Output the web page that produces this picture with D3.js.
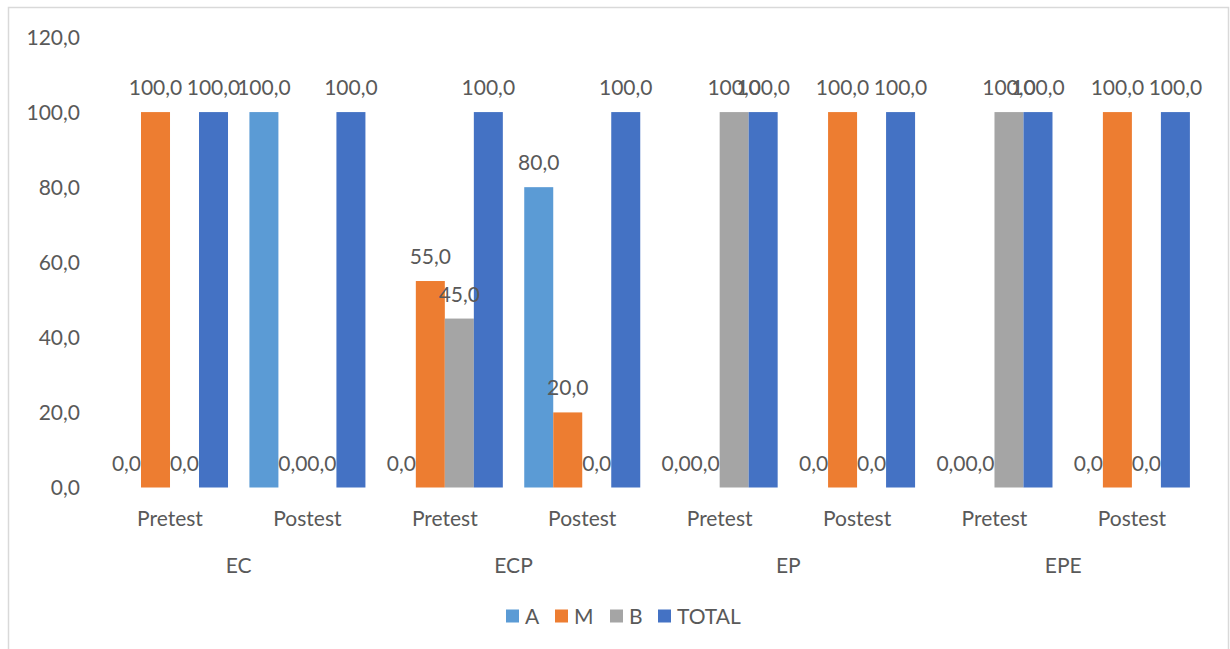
<!DOCTYPE html>
<html>
<head>
<meta charset="utf-8">
<script src="https://cdn.jsdelivr.net/npm/d3@7"></script>
<style>
  body { margin: 0; background: #fff; }
  text { font-family: Lato, "Open Sans", sans-serif; fill: #595959; }
</style>
</head>
<body>
<div id="chart"></div>
<script>
// Data
const groups = ["EC", "ECP", "EP", "EPE"];
const phases = ["Pretest", "Postest"];
const series = ["A", "M", "B", "TOTAL"];
const colors = ["#5B9BD5", "#ED7D31", "#A5A5A5", "#4472C4"];
const valuesA = [0, 100, 0, 80, 0, 0, 0, 0];
const valuesM = [100, 0, 55, 20, 0, 100, 0, 100];
const valuesB = [0, 0, 45, 0, 100, 0, 100, 0];
const valuesTotal = [100, 100, 100, 100, 100, 100, 100, 100];
const yTicks = [0, 20, 40, 60, 80, 100, 120];

const seriesValues = [valuesA, valuesM, valuesB, valuesTotal];
const categories = [];
groups.forEach(g => phases.forEach(p => categories.push({group: g, phase: p, key: g + "-" + p})));

const W = 1230, H = 649;
const svg = d3.select("#chart").append("svg")
    .attr("width", W)
    .attr("height", H);

// Chart border
svg.append("rect")
    .attr("x", 8.5).attr("y", 7.5)
    .attr("width", 1220).attr("height", 660)
    .attr("fill", "none")
    .attr("stroke", "#d9d9d9")
    .attr("stroke-width", 1.5);

// Scales
const x0 = d3.scaleBand()
    .domain(categories.map(d => d.key))
    .range([101.3, 1200.6])
    .padding(0);

const gap = 21.4;
const x1 = d3.scaleBand()
    .domain(series)
    .range([gap / 2, x0.bandwidth() - gap / 2])
    .padding(0);

const y = d3.scaleLinear()
    .domain([0, 120])
    .range([487.5, 37]);

const fmt = v => d3.format(".1f")(v).replace(".", ",");

// Y axis labels
svg.append("g")
    .selectAll("text")
    .data(yTicks)
    .enter()
    .append("text")
      .attr("x", 80)
      .attr("y", d => y(d))
      .attr("dy", "0.36em")
      .attr("text-anchor", "end")
      .style("font-size", "21px")
      .text(d => fmt(d));

// Bars
const cat = svg.append("g")
  .selectAll("g")
  .data(categories)
  .enter()
  .append("g")
    .attr("transform", d => `translate(${x0(d.key)},0)`);

const rows = (d, i) => series.map((s, j) => ({s: s, v: seriesValues[j][i], c: colors[j]}));

cat.selectAll("rect")
  .data(rows)
  .enter()
  .append("rect")
    .attr("x", d => x1(d.s))
    .attr("y", d => y(d.v))
    .attr("width", x1.bandwidth())
    .attr("height", d => y(0) - y(d.v))
    .attr("fill", d => d.c);

// Value labels
cat.selectAll("text.val")
  .data(rows)
  .enter()
  .append("text")
    .attr("class", "val")
    .attr("x", d => x1(d.s) + x1.bandwidth() / 2)
    .attr("y", d => y(d.v) - 17)
    .attr("text-anchor", "middle")
    .style("font-size", "21px")
    .text(d => fmt(d.v));

// Phase labels
svg.append("g")
  .selectAll("text")
  .data(categories)
  .enter()
  .append("text")
    .attr("x", d => x0(d.key) + x0.bandwidth() / 2)
    .attr("y", 518)
    .attr("dy", "0.36em")
    .attr("text-anchor", "middle")
    .style("font-size", "21px")
    .text(d => d.phase);

// Group labels
svg.append("g")
  .selectAll("text")
  .data(groups)
  .enter()
  .append("text")
    .attr("x", g => x0(g + "-Pretest") + x0.bandwidth())
    .attr("y", 565)
    .attr("dy", "0.36em")
    .attr("text-anchor", "middle")
    .style("font-size", "21px")
    .text(g => g);

// Legend
const legendX = [506, 555, 610, 658];
const legend = svg.append("g")
  .selectAll("g")
  .data(series)
  .enter()
  .append("g")
    .attr("transform", (d, i) => `translate(${legendX[i]},616)`);

legend.append("rect")
    .attr("x", 0).attr("y", -6.5)
    .attr("width", 13).attr("height", 13)
    .attr("fill", (d, i) => colors[i]);

legend.append("text")
    .attr("x", 19)
    .attr("dy", "0.36em")
    .style("font-size", "21px")
    .text(d => d);
</script>
</body>
</html>
